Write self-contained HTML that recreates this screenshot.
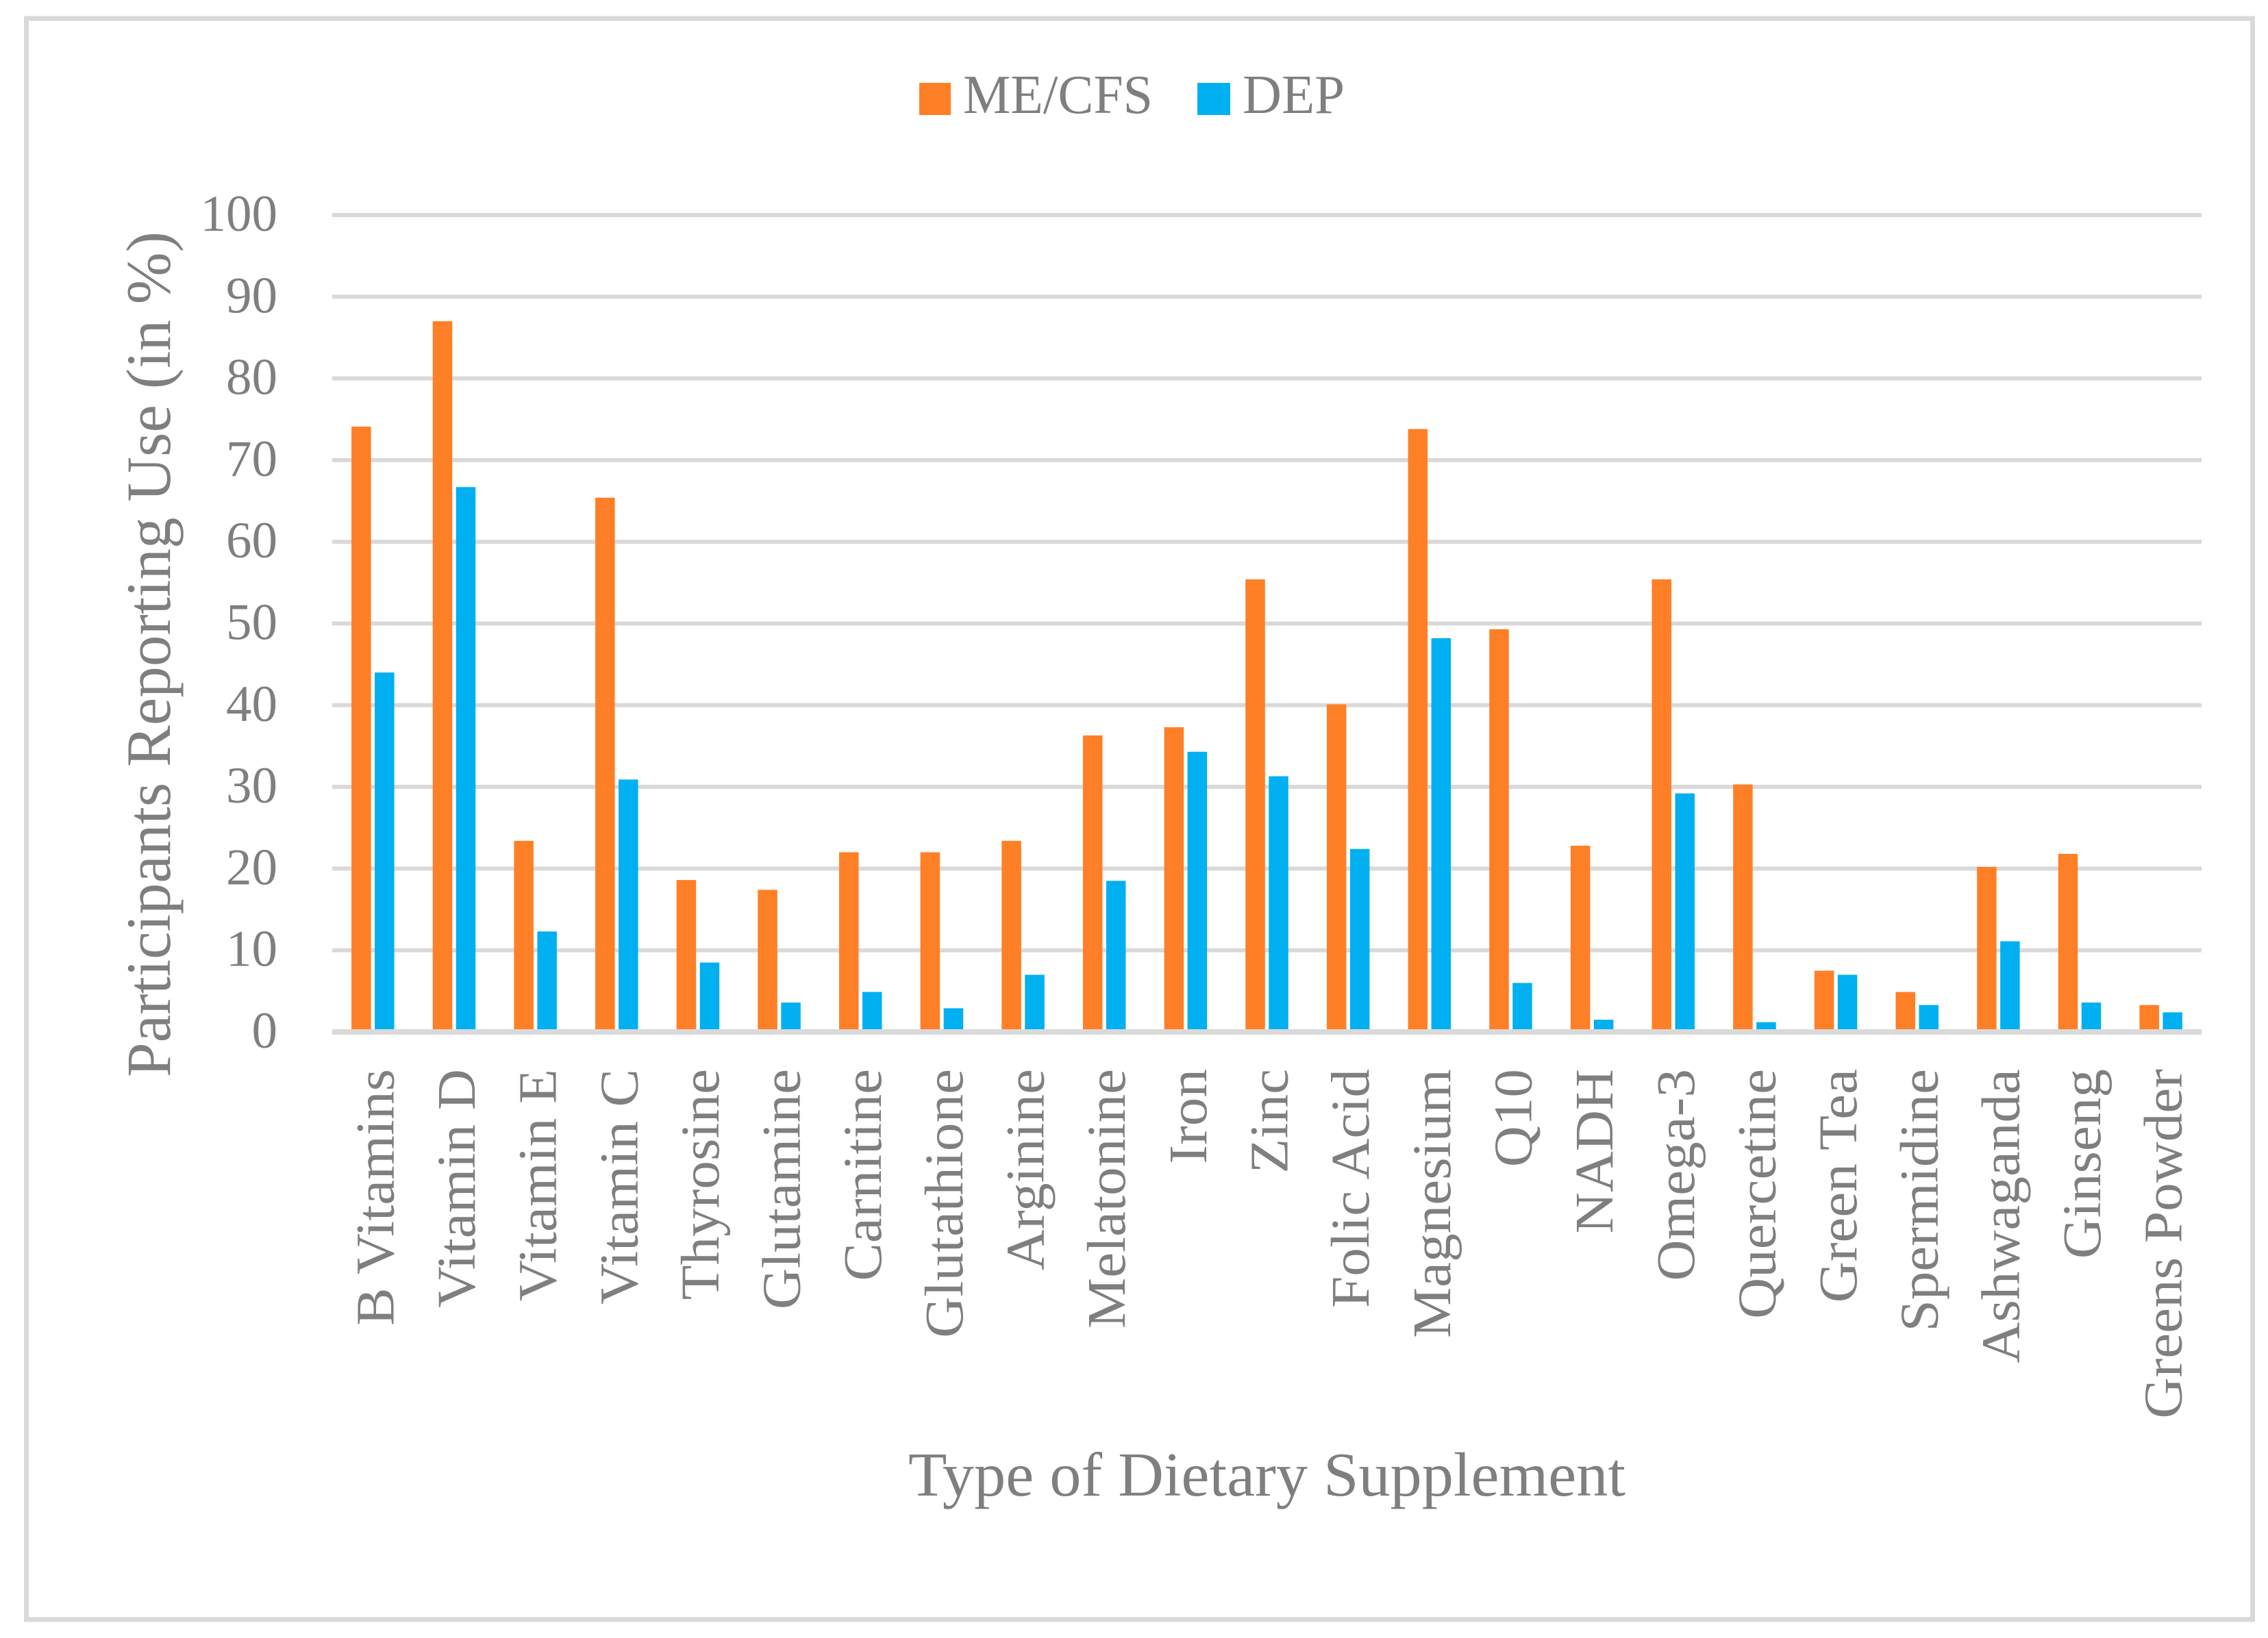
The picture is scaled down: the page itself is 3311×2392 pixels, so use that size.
<!DOCTYPE html>
<html>
<head>
<meta charset="utf-8">
<title>Dietary supplement use</title>
<style>
html,body{margin:0;padding:0;background:#fff;}
svg{display:block;}
text{font-family:"Liberation Serif",serif;fill:#7f7f7f;}
</style>
</head>
<body>
<svg id="chart" xmlns="http://www.w3.org/2000/svg" width="3311" height="2392" viewBox="0 0 3311 2392">
  <rect x="0" y="0" width="3311" height="2392" fill="#ffffff"/>
  <rect x="38.5" y="27" width="3250" height="2338" fill="none" stroke="#d9d9d9" stroke-width="7"/>
  <g id="grid"></g>
  <g id="bars"></g>
  <g id="axis"></g>
  <g id="yticks"></g>
  <g id="xticks"></g>
  <text transform="translate(248,1573) rotate(-90)" font-size="92" textLength="1235" lengthAdjust="spacingAndGlyphs">Participants Reporting Use (in %)</text>
  <text x="1326" y="2184" font-size="91" textLength="1047" lengthAdjust="spacingAndGlyphs">Type of Dietary Supplement</text>
  <g>
    <rect x="1342" y="121" width="46" height="47" fill="#ff7f27"/>
    <text x="1406" y="165" font-size="81" textLength="277" lengthAdjust="spacingAndGlyphs">ME/CFS</text>
    <rect x="1748" y="121" width="48" height="47" fill="#00b0f0"/>
    <text x="1814" y="165" font-size="81" textLength="149" lengthAdjust="spacingAndGlyphs">DEP</text>
  </g>
</svg>
<script>
const categories = ["B Vitamins","Vitamin D","Vitamin E","Vitamin C","Thyrosine","Glutamine","Carnitine","Glutathione","Arginine","Melatonine","Iron","Zinc","Folic Acid","Magnesium","Q10","NADH","Omega-3","Quercetine","Green Tea","Spermidine","Ashwaganda","Ginseng","Greens Powder"];
const meCfsValues = [74.1,87,23.4,65.4,18.6,17.4,22,22,23.4,36.3,37.3,55.4,40.1,73.8,49.3,22.8,55.4,30.3,7.5,4.9,20.2,21.8,3.3];
const depValues = [44,66.7,12.3,30.9,8.5,3.6,4.9,2.9,7,18.5,34.3,31.3,22.4,48.2,6,1.5,29.2,1.2,7,3.3,11.1,3.6,2.4];
const yTickLabels = [0,10,20,30,40,50,60,70,80,90,100];

const NS = "http://www.w3.org/2000/svg";
const plot = {left:485, right:3214, top:314, bottom:1507};
const yMax = 100;
function yScale(v){ return plot.bottom - (v / yMax) * (plot.bottom - plot.top); }
function bandWidth(){ return (plot.right - plot.left) / categories.length; }
function xCenter(i){ return plot.left + (i + 0.5) * bandWidth(); }
const barW = 28.5, barGap = 5.5;

function make(tag, attrs, parent){
  const el = document.createElementNS(NS, tag);
  for (const k in attrs) el.setAttribute(k, attrs[k]);
  parent.appendChild(el);
  return el;
}

const grid = document.getElementById("grid");
const yticks = document.getElementById("yticks");
yTickLabels.forEach(function(t){
  const y = yScale(t);
  if (t !== 0) {
    const line = make("rect", {x:plot.left, y:y-3, width:plot.right-plot.left, height:6, fill:"#d9d9d9"}, grid);
    
    
  }
  const label = make("text", {x:405, y:y+23, "font-size":75, "text-anchor":"end"}, yticks);
  
  
  label.textContent = String(t);
});

const bars = document.getElementById("bars");
const xticks = document.getElementById("xticks");
categories.forEach(function(name, i){
  const c = xCenter(i);
  const orange = make("rect", {x:c-barGap/2-barW, y:yScale(meCfsValues[i]), width:barW, height:plot.bottom-yScale(meCfsValues[i]), fill:"#ff7f27"}, bars);
  
  
  const blue = make("rect", {x:c+barGap/2, y:yScale(depValues[i]), width:barW, height:plot.bottom-yScale(depValues[i]), fill:"#00b0f0"}, bars);
  
  
  const label = make("text", {transform:"translate("+(c+30)+",1561) rotate(-90) scale(1.04,1)", "font-size":80, "text-anchor":"end"}, xticks);
  
  
  label.textContent = name;
});

const axisLine = make("rect", {x:plot.left, y:plot.bottom-4, width:plot.right-plot.left, height:8, fill:"#d9d9d9"}, document.getElementById("axis"));


</script>
</body>
</html>
